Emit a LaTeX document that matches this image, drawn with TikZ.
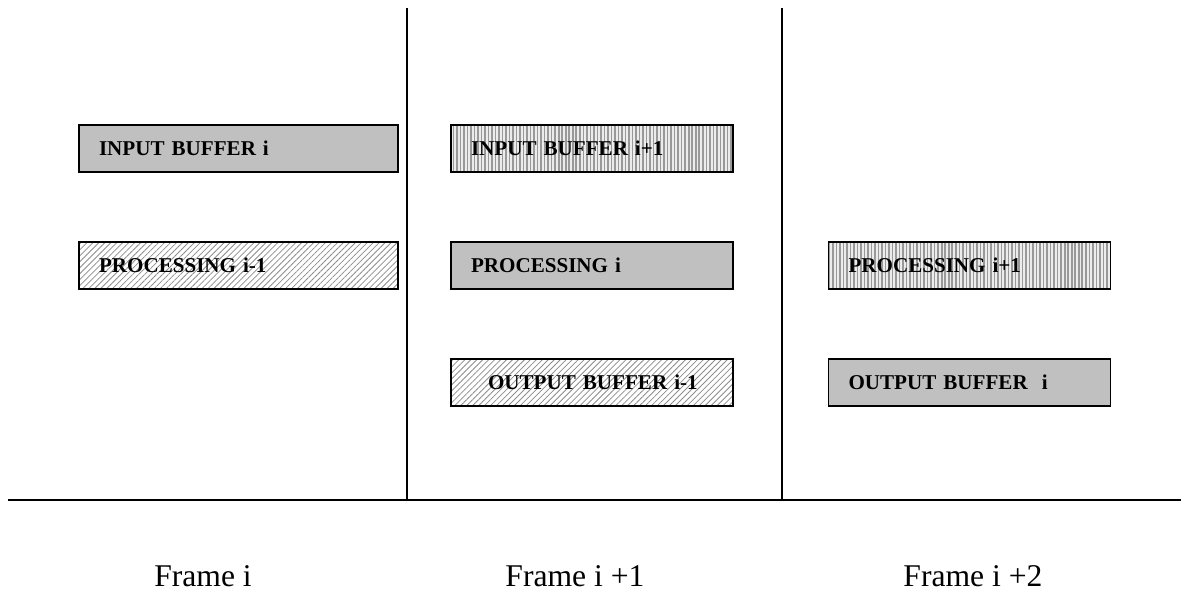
\documentclass[tikz,border=0pt]{standalone}
\usepackage{fontspec}
\setmainfont{Liberation Serif}
\usetikzlibrary{patterns.meta}

\definecolor{boxgray}{RGB}{192,192,192}

\tikzset{
  stage/.style={draw, line width=0.8pt, minimum height=0.94cm, inner xsep=0.4cm, inner ysep=0pt,
    align=left, font=\bfseries\fontsize{12}{14}\selectfont},
  wide/.style={text width=5.58cm},
  narrow/.style={text width=4.84cm},
  fillcur/.style={fill=boxgray},
  fillprev/.style={preaction={fill=white}, pattern={Lines[angle=45, distance=2.4pt, line width=0.45pt]}, pattern color=gray!90},
  fillnext/.style={preaction={fill=gray!15}, pattern={Lines[angle=90, distance=2pt, line width=0.9pt]}, pattern color=gray!80},
  frame/.style={font=\fontsize{18}{22}\selectfont, anchor=base, inner sep=0pt}
}

\begin{document}
\begin{tikzpicture}[x=0.02cm, y=-0.02cm]

\useasboundingbox (0,0) rectangle (1181,592);

\coordinate (top1) at (407,8);
\coordinate (top2) at (782,8);
\coordinate (axl) at (8,500);
\coordinate (axr) at (1181,500);

\draw [line width=1pt] (axl) -- (axr);
\draw [line width=1pt] (top1) -- (top1 |- axl);
\draw [line width=1pt] (top2) -- (top2 |- axl);

\node[stage, wide, fillcur] (inbuf0) at (238.5,148.5) {INPUT BUFFER i};
\node[stage, wide, fillprev] (proc0) at (238.5,265.5) {PROCESSING i-1};

\node[stage, narrow, fillnext] (inbuf1) at (592,148.5) {INPUT BUFFER i+1};
\node[stage, narrow, fillcur] (proc1) at (592,265.5) {PROCESSING i};
\node[stage, narrow, fillprev] (outbuf1) at (592,382.5) {\hspace*{0.34cm}OUTPUT BUFFER i-1};

\node[stage, narrow, fillnext] (proc2) at (969.5,265.5) {PROCESSING i+1};
\node[stage, narrow, fillcur] (outbuf2) at (969.5,382.5) {OUTPUT BUFFER \ i};

\node[frame] (frame0) at (203,586) {Frame i};
\node[frame] (frame1) at (575,586) {Frame i +1};
\node[frame] (frame2) at (973,586) {Frame i +2};

\end{tikzpicture}
\end{document}
